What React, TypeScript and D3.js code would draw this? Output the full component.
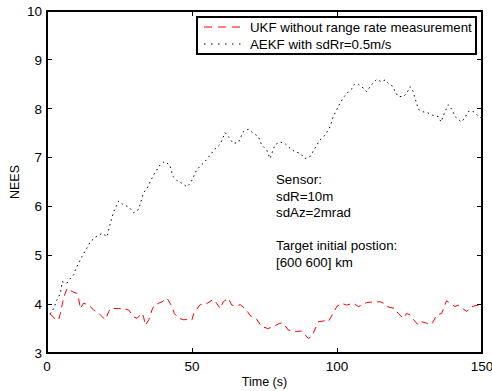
import React from "react";
import * as d3 from "d3";

// NEES over time for two filters
const ukfSamples: [number, number][] = [
  [1, 3.8], [2, 3.75], [3, 3.68], [4, 3.68], [4.6, 3.81], [5.7, 4.12], [6.9, 4.32], [7.5, 4.29],
  [9, 4.25], [10.3, 4.22], [10.9, 4.12], [11.5, 3.91], [12.6, 4.02], [14.4, 3.98], [16.1, 3.88],
  [18.4, 3.78], [20.1, 3.68], [21.3, 3.85], [21.8, 3.91], [23, 3.91], [24.7, 3.91], [26.4, 3.9],
  [28.2, 3.88], [29.9, 3.74], [31, 3.71], [32.8, 3.81], [33.3, 3.74], [33.9, 3.57], [35.1, 3.68],
  [36.2, 3.88], [37, 3.98], [39.7, 4.05], [41.4, 4.12], [43.1, 3.95], [43.9, 3.81], [45.4, 3.71],
  [47.1, 3.68], [48.9, 3.69], [50, 3.68], [50.6, 3.81], [52.8, 3.99], [54.5, 3.99], [57.4, 4.1],
  [58.5, 4.02], [59.7, 3.91], [60.8, 4.05], [62.5, 4.12], [63.7, 3.98], [65.4, 3.96], [66.6, 3.99],
  [68.3, 3.91], [70.6, 3.73], [72.3, 3.69], [74, 3.54], [76.3, 3.5], [77.5, 3.53], [80.3, 3.61],
  [81.5, 3.61], [83.2, 3.47], [86.1, 3.44], [87.8, 3.45], [90.1, 3.3], [91.3, 3.34], [93.6, 3.64],
  [95.9, 3.66], [97, 3.64], [99.3, 3.88], [99.9, 3.95], [101.6, 4.02], [103.3, 3.98], [105.6, 4.02],
  [107.4, 3.95], [110.2, 4.03], [111.4, 4.04], [114.8, 4.05], [116, 4.02], [117.1, 3.95], [120, 3.91],
  [121.1, 3.81], [122.9, 3.71], [124, 3.81], [125.2, 3.78], [126.3, 3.69], [128, 3.57], [129.2, 3.64],
  [130.9, 3.61], [132.7, 3.59], [134.4, 3.78], [136.1, 3.81], [137.8, 4.07], [138.9, 4.02],
  [140.7, 3.95], [141.8, 3.98], [144.7, 3.85], [145.3, 3.89], [146.4, 3.95], [148.7, 3.98], [150, 4.0],
];

const aekfSamples: [number, number][] = [
  [1, 3.8], [2.3, 3.91], [3.4, 4.08], [4.6, 4.22], [5, 4.36], [5.2, 4.46], [6.9, 4.43], [7.5, 4.49],
  [9.2, 4.6], [9.8, 4.7], [10.9, 4.84], [12, 4.97], [13.8, 5.15], [15, 5.28], [16.7, 5.37], [19, 5.45],
  [20.7, 5.38], [21.8, 5.65], [23, 5.89], [24.7, 6.11], [26.4, 6.03], [28.2, 5.99], [29.9, 5.87],
  [31.6, 5.94], [32.2, 6.06], [33.3, 6.28], [34.5, 6.37], [35.6, 6.51], [37.3, 6.7], [39, 6.85],
  [40.5, 6.92], [42.3, 6.85], [43.4, 6.62], [44.8, 6.53], [46.6, 6.47], [48.3, 6.4], [49.7, 6.5],
  [51.6, 6.75], [54.5, 6.92], [56.2, 7.05], [57.9, 7.17], [59.7, 7.27], [61.4, 7.51], [62.5, 7.43],
  [64.2, 7.29], [66, 7.31], [67.7, 7.53], [69.4, 7.58], [71.1, 7.5], [72.9, 7.43], [74, 7.26],
  [75.8, 7.15], [76.9, 6.98], [78.6, 7.26], [80.3, 7.32], [82, 7.29], [83.8, 7.19], [85.5, 7.12],
  [87.2, 7.09], [89, 6.98], [90.7, 7.02], [92.4, 7.19], [94.1, 7.36], [95.9, 7.46], [97.6, 7.63],
  [98.7, 7.84], [99.9, 7.98], [101, 8.11], [102.5, 8.25], [104, 8.35], [105, 8.4], [106, 8.5],
  [107.4, 8.5], [109.1, 8.42], [110.2, 8.35], [111.4, 8.45], [112.5, 8.53], [113.7, 8.6],
  [115.4, 8.55], [116.6, 8.59], [117.7, 8.52], [119.4, 8.45], [120, 8.35], [121.1, 8.25],
  [122.9, 8.25], [124, 8.31], [125.2, 8.45], [126.3, 8.35], [126.9, 8.21], [127.5, 8.11], [128, 7.99],
  [129.4, 7.94], [131.1, 7.92], [132.9, 7.87], [134.9, 7.84], [135.9, 7.73], [137.2, 7.94],
  [138.4, 8.08], [139.8, 7.97], [140.7, 7.84], [141.8, 7.78], [143, 7.73], [144.1, 7.82],
  [145.3, 7.94], [146.4, 7.96], [147.6, 7.92], [148.7, 7.85], [150, 7.8],
];

const xTicks = [0, 50, 100, 150];
const yTicks = [3, 4, 5, 6, 7, 8, 9, 10];
const legendLabels = ["UKF without range rate measurement", "AEKF with sdRr=0.5m/s"];
const noteLines = ["Sensor:", "sdR=10m", "sdAz=2mrad", "", "Target initial postion:", "[600 600] km"];

const W = 492;
const H = 391;
const m = { left: 47, right: 10, top: 11, bottom: 38 };
const FONT = "'Liberation Sans', Arial, sans-serif";

export default function App() {
  const x = d3.scaleLinear().domain([0, 150]).range([m.left, W - m.right]);
  const y = d3.scaleLinear().domain([3, 10]).range([H - m.bottom, m.top]);
  const line = d3
    .line<[number, number]>()
    .x((d) => x(d[0]))
    .y((d) => y(d[1]));

  const x0 = x(0), x1 = x(150), y0 = y(3), y1 = y(10);
  const tick = 5;

  return (
    <svg
      width={W}
      height={H}
      style={{ position: "absolute", left: 0, top: 0, background: "#fff" }}
      fontFamily={FONT}
    >
      <rect x={0} y={0} width={W} height={H} fill="#fff" />
      {/* data */}
      <path d={line(ukfSamples) ?? ""} fill="none" stroke="#ff0000" strokeWidth={1} strokeDasharray="7,5" />
      <path d={line(aekfSamples) ?? ""} fill="none" stroke="#000" strokeWidth={1} strokeDasharray="1.5,3.5" />

      {/* axes box */}
      <g shapeRendering="crispEdges">
        <rect x={x0} y={y1} width={x1 - x0} height={y0 - y1} fill="none" stroke="#000" strokeWidth={1.3} />
        {xTicks.map((t) => (
          <g key={"xt" + t}>
            <line x1={x(t)} x2={x(t)} y1={y0} y2={y0 - tick} stroke="#000" />
            <line x1={x(t)} x2={x(t)} y1={y1} y2={y1 + tick} stroke="#000" />
          </g>
        ))}
        {yTicks.map((t) => (
          <g key={"yt" + t}>
            <line x1={x0} x2={x0 + tick} y1={y(t)} y2={y(t)} stroke="#000" />
            <line x1={x1} x2={x1 - tick} y1={y(t)} y2={y(t)} stroke="#000" />
          </g>
        ))}
      </g>
      {xTicks.map((t) => (
        <text key={"xl" + t} x={x(t)} y={y0 + 18} fontSize={13.5} textAnchor="middle" fill="#000">
          {t}
        </text>
      ))}
      {yTicks.map((t) => (
        <text key={"yl" + t} x={x0 - 5} y={y(t) + 4.8} fontSize={13.5} textAnchor="end" fill="#000">
          {t}
        </text>
      ))}
      <text x={(x0 + x1) / 2} y={386} fontSize={12.5} textAnchor="middle" fill="#000">
        Time (s)
      </text>
      <text
        transform={`translate(19,${(y0 + y1) / 2}) rotate(-90)`}
        fontSize={12.5}
        textAnchor="middle"
        fill="#000"
      >
        NEES
      </text>

      {/* legend */}
      <rect x={197} y={17} width={279} height={37} fill="#fff" stroke="#000" strokeWidth={1.2} shapeRendering="crispEdges" />
      <line x1={204} x2={246} y1={27} y2={27} stroke="#ff0000" strokeDasharray="8,6" />
      <line x1={204} x2={246} y1={44} y2={44} stroke="#000" strokeDasharray="1.5,5.5" />
      {legendLabels.map((s, i) => (
        <text key={s} x={250} y={32 + i * 17} fontSize={13.3} fill="#000">
          {s}
        </text>
      ))}

      {/* annotation */}
      {noteLines.map((s, i) => (
        <text key={"n" + i} x={276} y={184 + i * 16.5} fontSize={13.3} fill="#000">
          {s}
        </text>
      ))}
    </svg>
  );
}
